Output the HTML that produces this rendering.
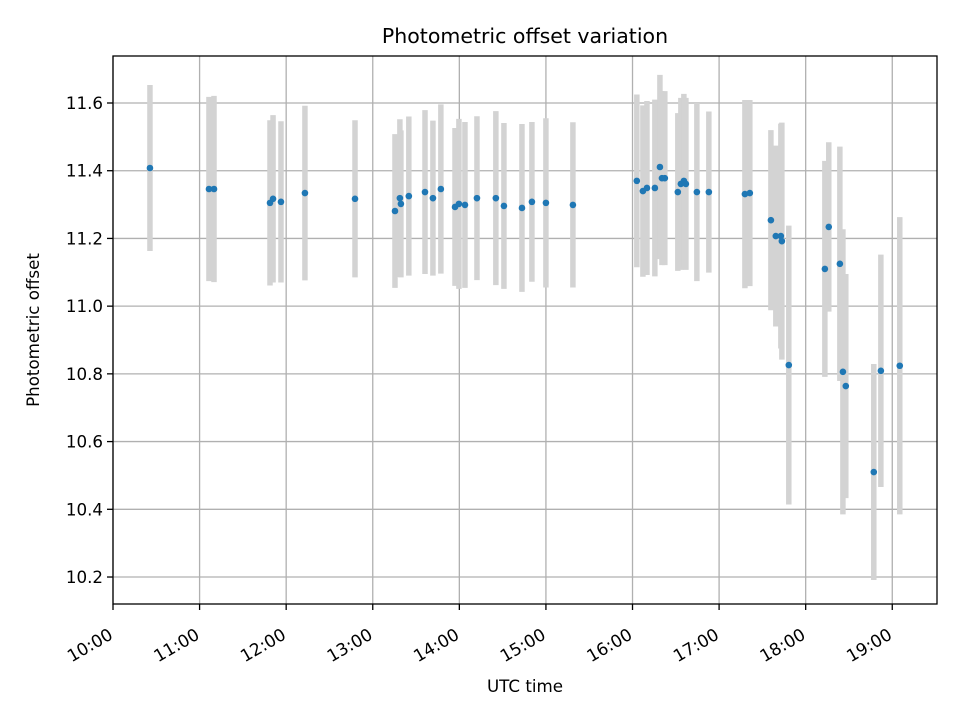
<!DOCTYPE html>
<html><head><meta charset="utf-8"><style>
html,body{margin:0;padding:0;background:#fff;}
svg{display:block;font-family:"DejaVu Sans","Liberation Sans",sans-serif;}
</style></head><body>
<svg id="chart" width="960" height="720" viewBox="0 0 960 720" xmlns="http://www.w3.org/2000/svg">
<rect x="0" y="0" width="960" height="720" fill="#fff"/>
<text x="525" y="43" text-anchor="middle" font-size="20.5">Photometric offset variation</text>
<text x="525" y="692" text-anchor="middle" font-size="16.7">UTC time</text>
<text transform="translate(39,330) rotate(-90)" text-anchor="middle" font-size="16.7">Photometric offset</text>
<g id="grid"></g>
<g id="bars"></g>
<g id="points"></g>
<g id="axes"></g>
</svg>
<script>
// minutes after 10:00 UTC
const times = [25.6,66.5,70,108.8,110.9,116.4,133,167.7,195.4,198.8,199.5,205,216.2,221.7,227.2,237,239.7,243.9,252.2,265.3,270.9,283.4,290.3,300,318.7,363,367.2,370,375.5,379,380.4,382.4,391.4,393.5,395.6,397,404.6,412.9,437.9,441.3,455.9,459.3,462.8,463.5,468.3,493.3,496,503.7,505.8,507.8,527.2,532.1,545.2];
const offsets = [11.408,11.346,11.346,11.305,11.317,11.308,11.334,11.317,11.281,11.319,11.302,11.325,11.337,11.319,11.346,11.293,11.302,11.299,11.319,11.319,11.296,11.29,11.308,11.305,11.299,11.37,11.34,11.349,11.349,11.411,11.378,11.378,11.337,11.361,11.37,11.361,11.337,11.337,11.331,11.334,11.254,11.207,11.207,11.192,10.826,11.11,11.234,11.125,10.806,10.764,10.51,10.809,10.824];
const errors = [0.245,0.272,0.275,0.244,0.247,0.238,0.258,0.232,0.227,0.233,0.217,0.235,0.242,0.229,0.25,0.233,0.251,0.245,0.242,0.257,0.245,0.248,0.236,0.25,0.244,0.255,0.253,0.257,0.261,0.272,0.257,0.257,0.233,0.254,0.257,0.254,0.263,0.238,0.278,0.275,0.266,0.267,0.332,0.35,0.412,0.319,0.25,0.346,0.421,0.331,0.319,0.343,0.439];
const xTickLabels = ["10:00","11:00","12:00","13:00","14:00","15:00","16:00","17:00","18:00","19:00"];
const yTickValues = [10.2,10.4,10.6,10.8,11.0,11.2,11.4,11.6];

const L=113,R=937,T=56,B=604;
const xMin=0,xMax=571;           // minutes
const yMin=10.1203,yMax=11.7388;
const X=m=>L+(m-xMin)/(xMax-xMin)*(R-L);
const Y=v=>B-(v-yMin)/(yMax-yMin)*(B-T);
const NS="http://www.w3.org/2000/svg";
function mk(tag,attrs,parent){const e=document.createElementNS(NS,tag);for(const k in attrs)e.setAttribute(k,attrs[k]);parent.appendChild(e);return e;}
const grid=document.getElementById('grid'),bars=document.getElementById('bars'),pts=document.getElementById('points'),axes=document.getElementById('axes');

xTickLabels.forEach((lab,i)=>{
  const x=X(i*60);
  const g=mk('line',{x1:x,x2:x,y1:T,y2:B,stroke:'#b0b0b0','stroke-width':1.3},grid);
  
  
  const t=mk('line',{x1:x,x2:x,y1:B,y2:B+6,stroke:'#000','stroke-width':1.3},axes);
  
  
  const tx=mk('text',{x:0,y:0,'font-size':17,'text-anchor':'end',transform:`translate(${x+1},${B+34}) rotate(-30)`},axes);
  tx.textContent=lab;
  
  
});
yTickValues.forEach(v=>{
  const y=Y(v);
  const g=mk('line',{x1:L,x2:R,y1:y,y2:y,stroke:'#b0b0b0','stroke-width':1.3},grid);
  
  
  const t=mk('line',{x1:L-6,x2:L,y1:y,y2:y,stroke:'#000','stroke-width':1.3},axes);
  
  
  const tx=mk('text',{x:L-10,y:y+6,'font-size':16.7,'text-anchor':'end'},axes);
  tx.textContent=v.toFixed(1);
  
  
});
const frame=mk('rect',{x:L,y:T,width:R-L,height:B-T,fill:'none',stroke:'#000','stroke-width':1.3},axes);



times.forEach((m,i)=>{
  const x=X(m);
  const b=mk('line',{x1:x,x2:x,y1:Y(offsets[i]+errors[i]),y2:Y(offsets[i]-errors[i]),stroke:'#d3d3d3','stroke-width':5.5},bars);
  
  
  const c=mk('circle',{cx:x,cy:Y(offsets[i]),r:3.3,fill:'#1f77b4'},pts);
  
  
});
</script>
</body></html>
